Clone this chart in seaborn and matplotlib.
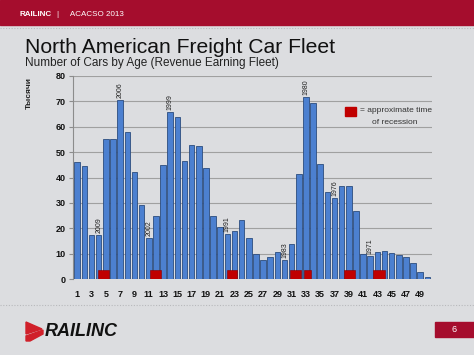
import numpy as np
import pandas as pd
import matplotlib
matplotlib.use("Agg")
import matplotlib.pyplot as plt
from matplotlib.patches import Rectangle, Polygon
import seaborn as sns

# ========== DATA ==========
AGES = list(range(1, 51))
CARS_K = [46.2, 44.6, 17.4, 17.4, 55.1, 55.1, 70.4, 57.7, 42.0, 29.2,
          16.1, 24.9, 44.8, 65.7, 63.6, 46.5, 52.6, 52.2, 43.7, 24.9,
          20.4, 17.8, 18.8, 23.2, 16.2, 10.1, 7.7, 8.8, 10.7, 7.6,
          13.7, 41.5, 71.7, 69.1, 45.2, 34.3, 31.8, 36.6, 36.6, 26.8,
          9.9, 9.2, 10.6, 11.1, 10.3, 9.7, 8.6, 6.5, 2.9, 0.8]
YEAR_LABEL_AGES = [4, 7, 11, 14, 22, 30, 33, 37, 42]
YEAR_LABELS = ["2009", "2006", "2002", "1999", "1991", "1983", "1980", "1976", "1971"]
# recession markers: centre age, width (in bars)
RECESSION_AGE = [4.7, 11.95, 22.65, 31.5, 33.2, 39.05, 43.2]
RECESSION_WIDTH = [1.5, 1.5, 1.5, 1.6, 1.0, 1.5, 1.6]
RECESSION_HEIGHT = 3.5

BG = "#dcdde0"
HEADER_RED = "#a50d2d"
BAR_BLUE = "#4c80d0"
BAR_EDGE = "#2b4c7e"
MARK_RED = "#c00000"

sns.set_theme(style="white")
plt.rcParams["font.family"] = ["Liberation Sans", "DejaVu Sans"]

df = pd.DataFrame({"age": AGES, "cars": CARS_K})

fig = plt.figure(figsize=(4.74, 3.55), dpi=100, facecolor=BG)
W, H = 474, 355


def fx(px):
    return px / W


def fy(py):
    return 1 - py / H


# header band
fig.patches.append(Rectangle((0, fy(25)), 1, 25 / H, transform=fig.transFigure,
                             color=HEADER_RED, zorder=0))
fig.text(fx(20), fy(14), "RAILINC", color="white", fontsize=5.8, fontweight="bold", va="center")
fig.text(fx(57), fy(14), "|     ACACSO 2013", color="white", fontsize=5.8, va="center")

# dotted separators
for yy in (28, 305):
    fig.add_artist(plt.Line2D([0, 1], [fy(yy), fy(yy)], transform=fig.transFigure,
                              color="#b8b9bc", linestyle=(0, (1, 1.5)), linewidth=0.8))

fig.text(fx(25), fy(53), "North American Freight Car Fleet", fontsize=15.2, color="#111111")
fig.text(fx(25), fy(66), "Number of Cars by Age (Revenue Earning Fleet)", fontsize=8.5,
         color="#222222")

# chart
ax = fig.add_axes([fx(72.7), fy(279.3), fx(431.7 - 72.7), (279.3 - 75.7) / H])
ax.set_facecolor("none")
sns.barplot(data=df, x="age", y="cars", ax=ax, color=BAR_BLUE, width=0.78,
            edgecolor=BAR_EDGE, linewidth=0.6, saturation=1, zorder=2)

ax.bar([a - 1 for a in RECESSION_AGE], [RECESSION_HEIGHT] * len(RECESSION_AGE),
       width=RECESSION_WIDTH, color=MARK_RED, edgecolor="#8a0000", linewidth=0.4, zorder=3)

for age, lbl in zip(YEAR_LABEL_AGES, YEAR_LABELS):
    ax.text(age - 1, CARS_K[age - 1] + 0.8, lbl, rotation=90, ha="center", va="bottom",
            fontsize=5, color="#222222", zorder=4)

ax.set_xlim(-0.64, 49.6)
ax.set_ylim(0, 80)
ax.set_yticks(np.arange(0, 81, 10))
ax.set_xticks(range(0, 50, 2))
ax.set_xticklabels([str(a) for a in AGES[::2]])
ax.yaxis.grid(True, color="#a0a0a0", linewidth=0.8, zorder=0)
ax.set_axisbelow(True)
for s in ("top", "right", "bottom"):
    ax.spines[s].set_visible(False)
ax.spines["left"].set_color("#8c8c8c")
ax.spines["left"].set_linewidth(0.8)
ax.tick_params(axis="y", left=True, length=3, width=0.8, color="#8c8c8c", pad=2,
               labelsize=6.5, labelcolor="#111111")
ax.tick_params(axis="x", bottom=False, pad=2, labelsize=6.5, labelcolor="#111111")
for t in ax.get_xticklabels() + ax.get_yticklabels():
    t.set_fontweight("bold")
ax.set_xlabel("")
ax.set_ylabel("Тысячи", fontsize=6, fontweight="bold", color="#222222")
ax.yaxis.set_label_coords(-0.11, 0.915)

# recession legend
fig.patches.append(Rectangle((fx(345), fy(116)), 11 / W, 9 / H, transform=fig.transFigure,
                             color=MARK_RED, zorder=5))
fig.text(fx(432), fy(111), "= approximate time", fontsize=6.0, color="#333333",
         ha="right", va="center")
fig.text(fx(417), fy(122), "of recession", fontsize=6.0, color="#333333",
         ha="right", va="center")

# footer logo and page number
fig.patches.append(Polygon([(fx(26), fy(322)), (fx(42), fy(329)), (fx(26), fy(334))],
                           closed=True, transform=fig.transFigure, color="#d0202a"))
fig.patches.append(Polygon([(fx(26), fy(336)), (fx(43), fy(330)), (fx(43), fy(334)),
                            (fx(30), fy(341)), (fx(26), fy(341))],
                           closed=True, transform=fig.transFigure, color="#d0202a"))
fig.text(fx(45), fy(331), "RAILINC", fontsize=13, fontweight="heavy", style="italic",
         color="#111111", va="center")
fig.patches.append(Rectangle((fx(435), fy(337)), 39 / W, 15 / H, transform=fig.transFigure,
                             color=HEADER_RED))
fig.text(fx(454), fy(329.5), "6", fontsize=6.5, color="white", ha="center", va="center")

fig.savefig("out.png", dpi=100, facecolor=BG)
